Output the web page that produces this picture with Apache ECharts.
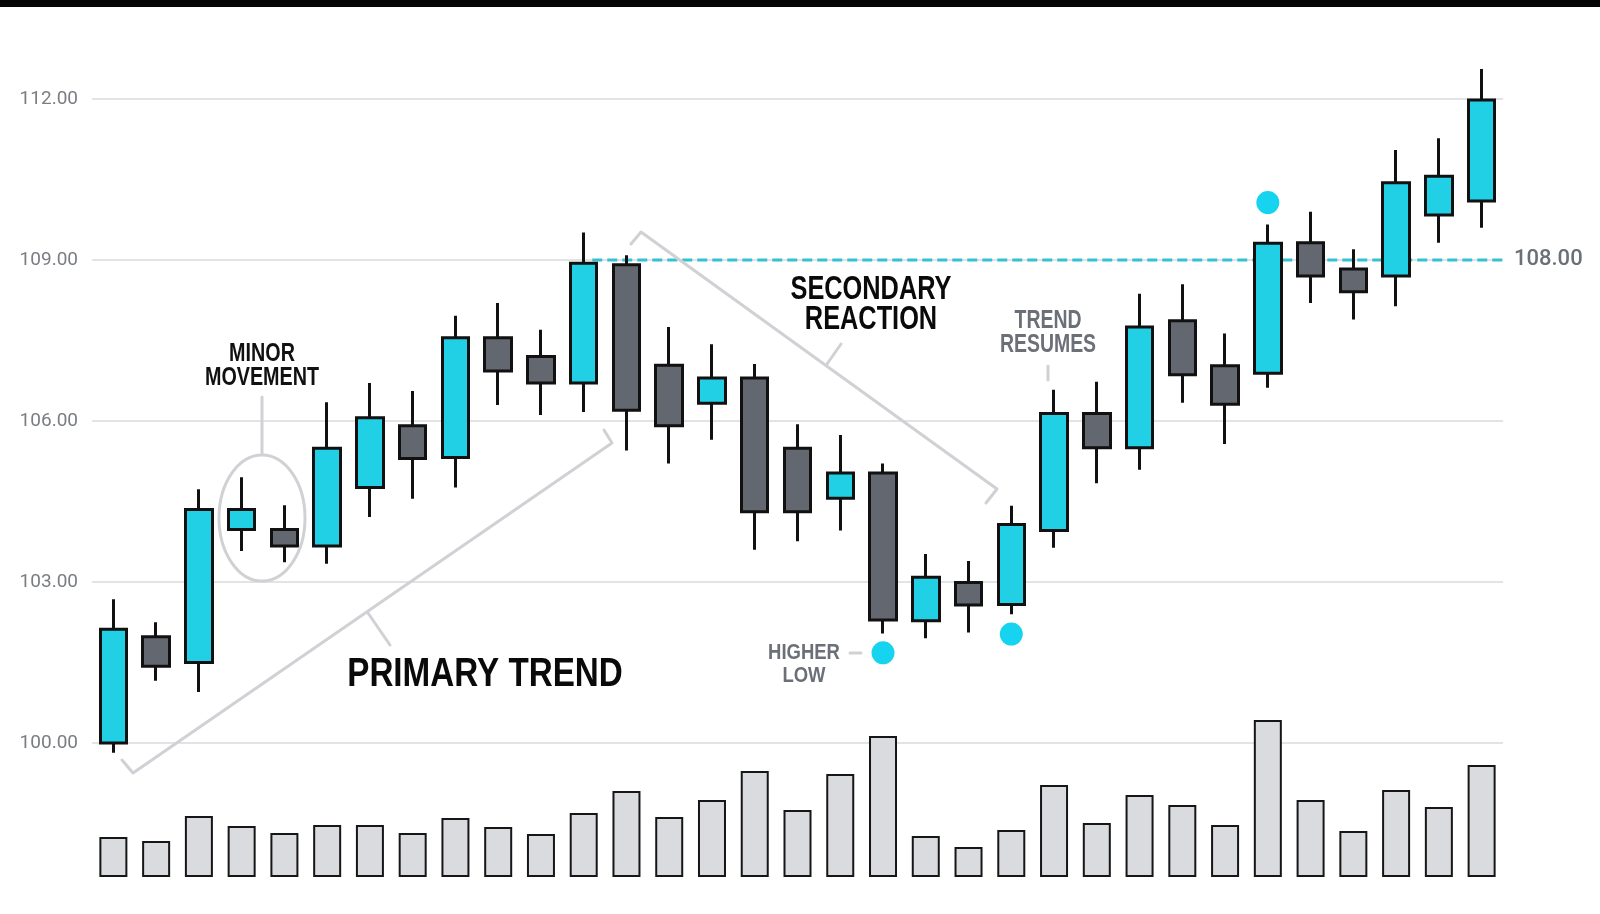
<!DOCTYPE html>
<html lang="en">
<head>
<meta charset="UTF-8">
<title>Primary trend and secondary reaction</title>
<script src="https://cdn.jsdelivr.net/npm/echarts@6/dist/echarts.min.js"></script>
<style>
    html, body { margin: 0; padding: 0; background: #fff; }
    #main { width: 1600px; height: 914px; }
</style>
</head>
<body>
<div id="main"></div>
<script type="text/javascript">
    // one entry per session, oldest first
    var sessions = ['1', '2', '3', '4', '5', '6', '7', '8', '9', '10', '11', '12', '13', '14', '15', '16', '17',
        '18', '19', '20', '21', '22', '23', '24', '25', '26', '27', '28', '29', '30', '31', '32', '33'];
    var opens = [100.00, 101.98, 101.50, 103.98, 103.98, 103.67, 104.76, 105.91, 105.32, 107.55, 107.20, 106.71, 108.91,
        107.04, 106.33, 106.80, 105.49, 104.56, 105.03, 102.28, 102.99, 102.58, 103.96, 106.14, 105.50, 107.87, 107.03,
        106.89, 109.32, 108.83, 108.70, 109.84, 110.10];
    var closes = [102.12, 101.43, 104.35, 104.35, 103.67, 105.49, 106.06, 105.30, 107.55, 106.93, 106.71, 108.94, 106.20,
        105.91, 106.80, 104.31, 104.31, 105.03, 102.29, 103.09, 102.57, 104.07, 106.14, 105.50, 107.75, 106.86, 106.31,
        109.31, 108.70, 108.41, 110.44, 110.56, 111.98];
    var lows = [99.82, 101.16, 100.95, 103.58, 103.37, 103.34, 104.21, 104.55, 104.76, 106.30, 106.11, 106.17, 105.45,
        105.21, 105.65, 103.60, 103.76, 103.96, 102.04, 101.95, 102.06, 102.40, 103.64, 104.84, 105.09, 106.34, 105.57,
        106.62, 108.20, 107.89, 108.14, 109.32, 109.60];
    var highs = [102.68, 102.25, 104.73, 104.95, 104.43, 106.35, 106.71, 106.56, 107.96, 108.20, 107.70, 109.51, 109.09,
        107.75, 107.43, 107.06, 105.94, 105.74, 105.21, 103.52, 103.39, 104.42, 106.58, 106.73, 108.37, 108.55, 107.63,
        109.66, 109.90, 109.20, 111.05, 111.27, 112.56];
    var volumes = [400, 360, 610, 510, 440, 520, 520, 440, 590, 500, 430, 640, 860, 600, 770, 1060, 670, 1030, 1410,
        410, 300, 470, 920, 540, 820, 720, 520, 1570, 770, 460, 870, 700, 1120];

    var priceTicks = [100, 103, 106, 109, 112];
    // marked swing points: [session index, price]
    var swingPoints = [[18, 101.68], [21, 102.03], [27, 110.07]];
    // breakout level, drawn from session 12 to the right edge
    var levelValue = 109;
    var levelSpan = [11.2, 32.5];
    var levelLabel = '108.00';

    var candleData = [];
    for (var i = 0; i < sessions.length; i++) {
        candleData.push([opens[i], closes[i], lows[i], highs[i]]);
    }

    var cyan = '#22d0e6';
    var slate = '#636770';
    var guide = '#cfd1d4';
    var note = '#6b6f77';
    var headFont = '"Liberation Sans", Arial, sans-serif';

    function caption(txt, cx, cy, size, color, sx, lh) {
        return {
            type: 'text', x: cx, y: cy, scaleX: sx, z: 100, silent: true,
            style: {
                text: txt, fill: color, font: 'bold ' + size + 'px ' + headFont,
                textAlign: 'center', textVerticalAlign: 'middle', lineHeight: lh
            }
        };
    }
    function stroke(el) {
        el.z = 50;
        el.silent = true;
        el.style = { stroke: guide, lineWidth: 3, fill: null, lineCap: 'round', lineJoin: 'round' };
        return el;
    }

    var myChart = echarts.init(document.getElementById('main'));

    var option = {
        backgroundColor: '#ffffff',
        animation: false,
        grid: [
            { left: 92, right: 97, top: 45.3, height: 751.4 },
            { left: 92, right: 97, bottom: 37, height: 200 }
        ],
        xAxis: [
            { type: 'category', gridIndex: 0, data: sessions, boundaryGap: true, show: false },
            { type: 'value', gridIndex: 0, min: -0.5, max: 32.5, show: false },
            { type: 'category', gridIndex: 1, data: sessions, boundaryGap: true, show: false }
        ],
        yAxis: [
            {
                type: 'value', gridIndex: 0, min: 99, max: 113, interval: 1,
                axisLine: { show: false }, axisTick: { show: false }, splitLine: { show: false },
                axisLabel: {
                    margin: 14, color: '#7a7d82', fontSize: 19, fontFamily: 'Roboto',
                    formatter: function (v) {
                        return priceTicks.indexOf(v) >= 0 ? v.toFixed(2) : '';
                    }
                }
            },
            { type: 'value', gridIndex: 1, min: 0, max: 2000, show: false }
        ],
        series: [
            {
                // horizontal guides behind the candles
                type: 'line', xAxisIndex: 0, yAxisIndex: 0, data: [], z: 0, silent: true,
                markLine: {
                    z: 0, silent: true, symbol: 'none', label: { show: false },
                    lineStyle: { color: '#e2e3e5', width: 2, type: 'solid' },
                    data: priceTicks.map(function (v) { return { yAxis: v }; })
                }
            },
            {
                type: 'line', xAxisIndex: 1, yAxisIndex: 0, z: 1, silent: true,
                symbol: 'none',
                data: [[levelSpan[0], levelValue], [levelSpan[1], levelValue]],
                lineStyle: { color: '#34c2d2', width: 3, opacity: 1, type: [10, 5] },
                endLabel: {
                    show: true, distance: 11, formatter: levelLabel,
                    color: note, fontSize: 22, fontWeight: 500, fontFamily: 'Roboto'
                }
            },
            {
                type: 'candlestick', xAxisIndex: 0, yAxisIndex: 0, z: 2,
                barWidth: 27,
                data: candleData,
                itemStyle: {
                    color: cyan, color0: slate,
                    borderColor: '#111111', borderColor0: '#111111', borderWidth: 3
                }
            },
            {
                type: 'scatter', xAxisIndex: 1, yAxisIndex: 0, z: 3,
                symbol: 'circle', symbolSize: 23,
                itemStyle: { color: '#16d4ef', opacity: 1 },
                data: swingPoints
            },
            {
                type: 'bar', xAxisIndex: 2, yAxisIndex: 1,
                barWidth: 28,
                data: volumes,
                itemStyle: { color: '#d9dbde', borderColor: '#161616', borderWidth: 2 }
            }
        ],
        graphic: [
            { type: 'rect', shape: { x: 0, y: 0, width: 1600, height: 7 }, style: { fill: '#050505' }, z: 100 },

            caption('MINOR\nMOVEMENT', 262, 366, 25, '#111111', 0.79, 24),
            stroke({ type: 'line', shape: { x1: 262, y1: 397, x2: 262, y2: 454 } }),
            stroke({ type: 'ellipse', shape: { cx: 262, cy: 518, rx: 43, ry: 63 } }),

            caption('PRIMARY TREND', 485, 675, 40.5, '#0a0a0a', 0.82, 44),
            stroke({ type: 'polyline', shape: { points: [[122, 760], [133, 773], [612, 443], [604, 430]] } }),
            stroke({ type: 'line', shape: { x1: 368, y1: 613, x2: 390, y2: 645 } }),

            caption('SECONDARY\nREACTION', 871, 305, 32.7, '#0a0a0a', 0.775, 30),
            stroke({ type: 'polyline', shape: { points: [[631, 244], [641, 232], [997, 489], [986, 503]] } }),
            stroke({ type: 'line', shape: { x1: 827, y1: 364, x2: 841, y2: 344 } }),

            caption('TREND\nRESUMES', 1048, 333, 25.6, note, 0.76, 23.5),
            stroke({ type: 'line', shape: { x1: 1048, y1: 366, x2: 1048, y2: 380 } }),

            caption('HIGHER\nLOW', 804, 664, 22.3, note, 0.83, 23),
            stroke({ type: 'line', shape: { x1: 850, y1: 653, x2: 861, y2: 653 } })
        ]
    };

    myChart.setOption(option);
</script>
</body>
</html>
